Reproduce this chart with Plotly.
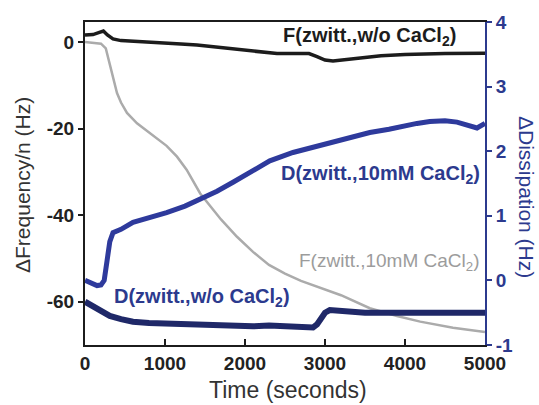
import plotly.graph_objects as go

# ---- data ----
t_f_wo = [0, 100, 180, 230, 280, 350, 450, 600, 800, 1000, 1200, 1400, 1600, 1800, 2000,
          2200, 2400, 2600, 2800, 2900, 3000, 3100, 3300, 3500, 3700, 4000, 4500, 5000]
f_wo = [1.6, 1.7, 2.2, 2.5, 1.6, 0.7, 0.3, 0.1, -0.1, -0.3, -0.5, -0.7, -1.1, -1.6, -2.1,
        -2.5, -2.7, -2.7, -2.7, -3.4, -4.2, -4.4, -4.1, -3.6, -3.2, -2.9, -2.7, -2.6]

t_f_ca = [0, 100, 200, 260, 300, 350, 400, 450, 525, 650, 810, 1020, 1150, 1270, 1440, 1525,
          1700, 1900, 2100, 2300, 2500, 2700, 2940, 3200, 3560, 3900, 4190, 4600, 5000]
f_ca = [0, -0.2, -0.4, -1.5, -4.5, -8.5, -11.8, -14, -16.4, -18.8, -21, -24, -26.5, -29.5, -35, -37,
        -41, -45, -48.5, -51.5, -53.5, -55.2, -56.8, -58.5, -61.5, -63.3, -64.6, -66, -67]

t_d_ca = [0, 80, 150, 200, 240, 275, 310, 350, 450, 600, 800, 1020, 1250, 1440, 1650, 1850,
          2100, 2310, 2600, 2900, 3150, 3400, 3560, 3800, 3975, 4150, 4310, 4500, 4650, 4810,
          4900, 5000]
d_ca = [0.0, -0.05, -0.08, -0.07, 0.0, 0.3, 0.6, 0.74, 0.79, 0.9, 0.97, 1.05, 1.15, 1.25, 1.38,
        1.52, 1.7, 1.85, 1.98, 2.08, 2.17, 2.24, 2.29, 2.34, 2.39, 2.43, 2.46, 2.47, 2.45, 2.38,
        2.36, 2.43]

t_d_wo = [0, 100, 190, 310, 450, 600, 800, 1020, 1300, 1600, 1850, 2100, 2300, 2500, 2700,
          2850, 2900, 2950, 3000, 3060, 3200, 3500, 4000, 4500, 5000]
d_wo = [-0.33, -0.4, -0.45, -0.55, -0.6, -0.64, -0.66, -0.67, -0.69, -0.71, -0.72, -0.71, -0.70,
        -0.71, -0.72, -0.73, -0.68, -0.57, -0.5, -0.46, -0.48, -0.5, -0.5, -0.5, -0.5]

x_ticks = [0, 1000, 2000, 3000, 4000, 5000]
y_ticks = [0, -20, -40, -60]
y_ticktext = ["0", "-20", "-40", "-60"]
y2_ticks = [-1, 0, 1, 2, 3, 4]
y2_ticktext = ["-1", "0", "1", "2", "3", "4"]

FONT = "Liberation Sans, Arial, sans-serif"
NAVY = "#2c3a8e"
BLUE = "#2e3a9c"
DARK = "#1f2868"
GRAY = "#ababab"
BLACK = "#1c1c1c"

fig = go.Figure()
fig.add_trace(go.Scatter(x=t_f_ca, y=f_ca, mode="lines", line=dict(color=GRAY, width=2.5),
                         yaxis="y", showlegend=False))
fig.add_trace(go.Scatter(x=t_f_wo, y=f_wo, mode="lines", line=dict(color=BLACK, width=3.5),
                         yaxis="y", showlegend=False))
fig.add_trace(go.Scatter(x=t_d_ca, y=d_ca, mode="lines", line=dict(color=BLUE, width=5),
                         yaxis="y2", showlegend=False))
fig.add_trace(go.Scatter(x=t_d_wo, y=d_wo, mode="lines", line=dict(color=DARK, width=6),
                         yaxis="y2", showlegend=False))

fig.update_layout(
    width=539, height=405,
    margin=dict(l=85, r=54, t=22, b=60),
    paper_bgcolor="white", plot_bgcolor="white",
    font=dict(family=FONT),
    xaxis=dict(range=[0, 5000], tickvals=x_ticks, showgrid=False, zeroline=False,
               showline=True, linecolor=BLACK, linewidth=2, mirror=True,
               ticks="inside", ticklen=6, tickwidth=2, tickcolor=BLACK,
               tickfont=dict(size=19, color="#222222", family=FONT, weight="bold")),
    yaxis=dict(range=[-70, 4.6], tickvals=y_ticks, ticktext=y_ticktext, showgrid=False,
               zeroline=False, showline=True, linecolor=BLACK, linewidth=2,
               ticks="outside", ticklen=5, tickwidth=2, tickcolor=BLACK,
               tickfont=dict(size=19, color="#222222", family=FONT, weight="bold")),
    yaxis2=dict(range=[-1, 4], overlaying="y", side="right", tickvals=y2_ticks,
                ticktext=y2_ticktext, showgrid=False, zeroline=False, showline=True,
                linecolor=NAVY, linewidth=2, ticks="outside", ticklen=5, tickwidth=2,
                tickcolor=NAVY,
                tickfont=dict(size=19, color=NAVY, family=FONT, weight="bold")),
)

annots = [
    dict(text="F(zwitt.,w/o CaCl<sub>2</sub>)", x=3560, y=37, color=BLACK, bold=True, size=20),
    dict(text="D(zwitt.,10mM CaCl<sub>2</sub>)", x=3690, y=174, color=NAVY, bold=True, size=20),
    dict(text="F(zwitt.,10mM CaCl<sub>2</sub>)", x=3800, y=262, color="#9c9c9c", bold=False, size=19),
    dict(text="D(zwitt.,w/o CaCl<sub>2</sub>)", x=1465, y=297, color=NAVY, bold=True, size=20),
]
for a in annots:
    fig.add_annotation(text=a["text"], x=a["x"], xref="x", y=(345 - a["y"]) / 323, yref="paper",
                       showarrow=False, xanchor="center", yanchor="middle",
                       font=dict(size=a["size"], color=a["color"], family=FONT,
                                 weight="bold" if a["bold"] else "normal"))

# axis titles
fig.add_annotation(text="\u0394Frequency/n (Hz)", x=(22 - 85) / 400, y=(345 - 185) / 323,
                   xref="paper", yref="paper", textangle=-90, showarrow=False,
                   xanchor="center", yanchor="middle",
                   font=dict(size=21, color="#333333", family=FONT))
fig.add_annotation(text="\u0394Dissipation (Hz)", x=(527 - 85) / 400, y=(345 - 197) / 323,
                   xref="paper", yref="paper", textangle=90, showarrow=False,
                   xanchor="center", yanchor="middle",
                   font=dict(size=21, color=NAVY, family=FONT))
fig.add_annotation(text="Time (seconds)", x=(288 - 85) / 400, y=(345 - 390) / 323,
                   xref="paper", yref="paper", showarrow=False,
                   xanchor="center", yanchor="middle",
                   font=dict(size=23, color="#333333", family=FONT))

fig.write_html("out.html")
